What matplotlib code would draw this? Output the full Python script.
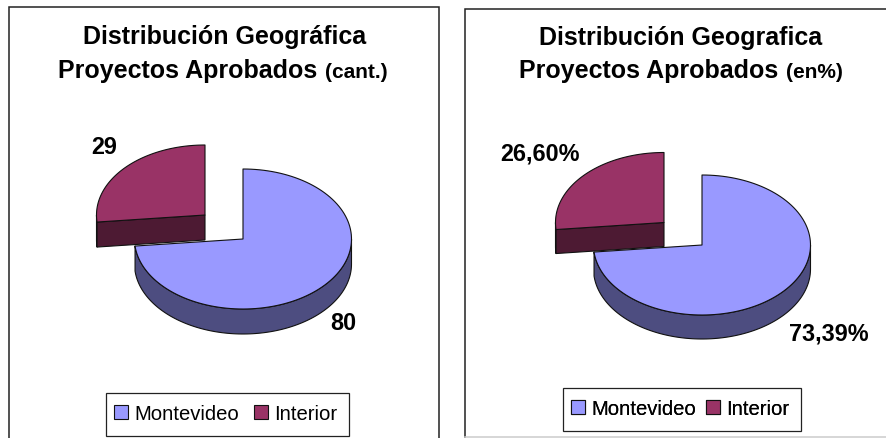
import numpy as np
import matplotlib
matplotlib.use("Agg")
import matplotlib.pyplot as plt
from matplotlib.patches import Polygon, Patch, Rectangle

plt.rcParams['font.family'] = ['Liberation Sans', 'DejaVu Sans']

# ================== data ==================
categories = ["Montevideo", "Interior"]
cant_values = [80, 29]
pct_values = [73.39, 26.60]
cant_labels = ["80", "29"]
pct_labels = ["73,39%", "26,60%"]

TOP_COLORS = ["#9999FF", "#993366"]
SIDE_COLORS = ["#4D4D80", "#4D1A33"]
EDGE = "#111111"
RX, RY = 108.5, 70


def ellipse_pts(cx, cy, a0, a1, rx, ry):
    # angles in degrees, clockwise from 12 o'clock, y axis points down
    t = np.radians(np.linspace(a0, a1, 120))
    return np.column_stack([cx + rx * np.sin(t), cy - ry * np.cos(t)])


def draw_slice(ax, cx, cy, a0, a1, rx, ry, depth, top, side):
    # outer wall, only the part facing the viewer
    lo, hi = max(a0, 90), min(a1, 270)
    if hi > lo:
        arc = ellipse_pts(cx, cy, lo, hi, rx, ry)
        wall = np.vstack([arc, arc[::-1] + [0, depth]])
        ax.add_patch(Polygon(wall, fc=side, ec=EDGE, lw=0.8, joinstyle='round'))
    # cut face going from centre to the a0 edge (Interior slice only)
    if a0 > 180:
        end = ellipse_pts(cx, cy, a0, a0, rx, ry)[0]
        face = [[cx, cy], end, end + [0, depth], [cx, cy + depth]]
        ax.add_patch(Polygon(face, fc=side, ec=EDGE, lw=0.8))
    pts = np.vstack([[cx, cy], ellipse_pts(cx, cy, a0, a1, rx, ry)])
    ax.add_patch(Polygon(pts, fc=top, ec=EDGE, lw=0.8, joinstyle='round'))


def draw_panel(ax, frame, bottom_color, main_c, ext_c, depth, values, labels, label_pos,
               title_x, title_y, title1, title2, title3, x2_right, x3_left,
               legend_box, legend_x, column_gap):
    x0, y0, x1, y1 = frame
    ax.plot([x0, x0, x1, x1], [y1, y0, y0, y1], color='#222222', lw=1.1, solid_joinstyle='miter')
    ax.plot([x0, x1], [y1, y1], color=bottom_color, lw=1.1)

    angle = 360 * values[0] / sum(values)
    draw_slice(ax, main_c[0], main_c[1], 0, angle, RX, RY, depth, TOP_COLORS[0], SIDE_COLORS[0])
    draw_slice(ax, ext_c[0], ext_c[1], angle, 360, RX, RY, depth, TOP_COLORS[1], SIDE_COLORS[1])

    for txt, pos in zip(labels, label_pos):
        ax.text(pos[0], pos[1], txt, ha='center', va='center', fontsize=16.8, fontweight='bold')

    ax.text(title_x, title_y[0], title1, ha='center', va='center', fontsize=18, fontweight='bold')
    ax.text(x2_right, title_y[1], title2, ha='right', va='center', fontsize=18, fontweight='bold')
    ax.text(x3_left, title_y[1] + 2, title3, ha='left', va='center', fontsize=15, fontweight='bold')

    lx0, ly0, lx1, ly1 = legend_box
    ax.add_patch(Rectangle((lx0, ly0), lx1 - lx0, ly1 - ly0, fc='white', ec='#222222', lw=0.9))
    handles = [Patch(fc=c, ec=EDGE, lw=0.8) for c in TOP_COLORS]
    leg = ax.legend(handles, categories, loc='center left',
                    bbox_to_anchor=(legend_x, (ly0 + ly1) / 2 - 1),
                    bbox_transform=ax.transData, ncol=2, fontsize=14.6,
                    frameon=False, handlelength=0.7, handleheight=0.7, handletextpad=0.3,
                    columnspacing=column_gap, borderpad=0, borderaxespad=0)
    ax.add_artist(leg)


fig = plt.figure(figsize=(8.87, 4.39), dpi=100)
ax = fig.add_axes([0, 0, 1, 1])
ax.set_xlim(0, 887)
ax.set_ylim(439, 0)
ax.axis('off')

draw_panel(ax, (9, 8, 439, 445), 'white', (243, 240), (205, 216), 25, cant_values, cant_labels,
           [(343, 324), (104, 148)], 224.5, (37, 71),
           "Distribución Geográfica", "Proyectos Aprobados", "(cant.)", 317, 325,
           (106, 394, 349, 437), 114, 0.74)

draw_panel(ax, (465, 10, 892, 438), '#cccccc', (702, 246), (664, 223.5), 24, pct_values, pct_labels,
           [(829, 334), (540, 154)], 681, (38, 71),
           "Distribución Geografica", "Proyectos Aprobados", "(en%)", 778, 786,
           (563, 389, 801, 432), 571, 0.5)

fig.savefig("out.png", dpi=100)
